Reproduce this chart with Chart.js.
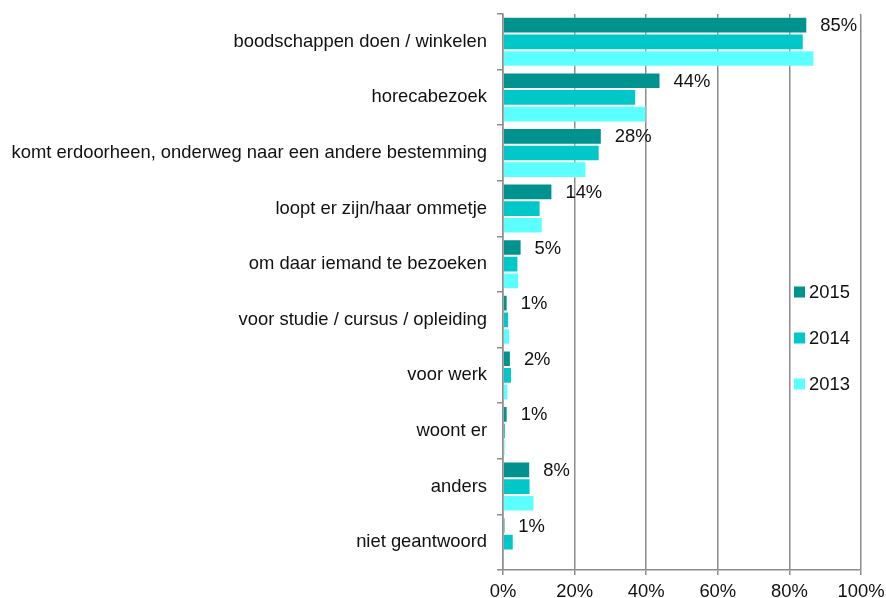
<!DOCTYPE html>
<html>
<head>
<meta charset="utf-8">
<script src="https://cdn.jsdelivr.net/npm/chart.js@4/dist/chart.umd.min.js"></script>
<style>
  html, body { margin: 0; padding: 0; background: #fff; }
  #wrap { width: 886px; height: 598px; position: relative; }
</style>
</head>
<body>
<div id="wrap"><canvas id="c" width="886" height="598"></canvas></div>
<script>
const categories = [
  'boodschappen doen / winkelen',
  'horecabezoek',
  'komt erdoorheen, onderweg naar een andere bestemming',
  'loopt er zijn/haar ommetje',
  'om daar iemand te bezoeken',
  'voor studie / cursus / opleiding',
  'voor werk',
  'woont er',
  'anders',
  'niet geantwoord'
];
const values2015 = [85, 44, 27.6, 13.8, 5.2, 1.3, 2.2, 1.3, 7.6, 0.6];
const values2014 = [84, 37.2, 27, 10.5, 4.3, 1.7, 2.5, 0.8, 7.7, 3];
const values2013 = [87, 40, 23.3, 11.1, 4.5, 2, 1.5, 0.7, 8.8, 0.3];
const seriesNames = ['2015', '2014', '2013'];
const seriesColors = ['#00928F', '#00C8C8', '#5CFFFF'];
const xTicks = [0, 20, 40, 60, 80, 100];

const FONT = 'Liberation Sans, Arial, sans-serif';
const FS = 18.4;

const labelPlugin = {
  id: 'valueLabels',
  afterDatasetsDraw(chart) {
    const ctx = chart.ctx;
    const meta = chart.getDatasetMeta(0);
    ctx.save();
    ctx.font = FS + 'px ' + FONT;
    ctx.fillStyle = '#111';
    ctx.textAlign = 'left';
    ctx.textBaseline = 'middle';
    meta.data.forEach((bar, i) => {
      const v = chart.data.datasets[0].data[i];
      ctx.fillText(Math.round(v) + '%', bar.x + 13, bar.y + 1);
    });
    ctx.restore();
  }
};

const legendPlugin = {
  id: 'customLegend',
  afterDraw(chart) {
    const ctx = chart.ctx;
    const a = chart.chartArea;
    ctx.save();
    ctx.font = FS + 'px ' + FONT;
    ctx.textAlign = 'left';
    ctx.textBaseline = 'middle';
    chart.data.datasets.forEach((ds, i) => {
      const y = a.top + 278 + i * 46;
      const x = a.right - 67;
      ctx.fillStyle = ds.backgroundColor;
      ctx.fillRect(x, y - 5.5, 11, 11);
      ctx.fillStyle = '#111';
      ctx.fillText(ds.label, x + 15, y + 1);
    });
    ctx.restore();
  }
};

new Chart(document.getElementById('c'), {
  type: 'bar',
  data: {
    labels: categories,
    datasets: [
      { label: seriesNames[0], data: values2015, backgroundColor: seriesColors[0] },
      { label: seriesNames[1], data: values2014, backgroundColor: seriesColors[1] },
      { label: seriesNames[2], data: values2013, backgroundColor: seriesColors[2] }
    ]
  },
  options: {
    indexAxis: 'y',
    responsive: false,
    animation: false,
    layout: { padding: { top: 14, right: 25, left: 0, bottom: 0 } },
    datasets: { bar: { categoryPercentage: 0.9, barPercentage: 1.0, borderWidth: 1, borderColor: 'rgba(255,255,255,0.35)' } },
    plugins: { legend: { display: false }, tooltip: { enabled: false } },
    scales: {
      x: {
        min: 0, max: 100,
        afterBuildTicks(scale) { scale.ticks = xTicks.map(v => ({ value: v })); },
        afterFit(scale) { scale.height = 28; scale.paddingLeft = 0; scale.paddingRight = 0; },
        grid: { color: '#8c8c8c', lineWidth: 1.5, tickLength: 5, drawTicks: true },
        border: { color: '#8c8c8c', width: 1.5 },
        ticks: {
          color: '#111', padding: 6,
          font: { family: FONT, size: FS },
          callback: v => v + '%'
        }
      },
      y: {
        afterFit(scale) { scale.width = 503; scale.paddingTop = 0; scale.paddingBottom = 0; },
        grid: { drawOnChartArea: false, color: '#8c8c8c', lineWidth: 1.5, tickLength: 6, offset: true },
        border: { color: '#8c8c8c', width: 1.5 },
        ticks: {
          color: '#111', padding: 10,
          font: { family: FONT, size: FS }
        }
      }
    }
  },
  plugins: [labelPlugin, legendPlugin]
});
</script>
</body>
</html>
